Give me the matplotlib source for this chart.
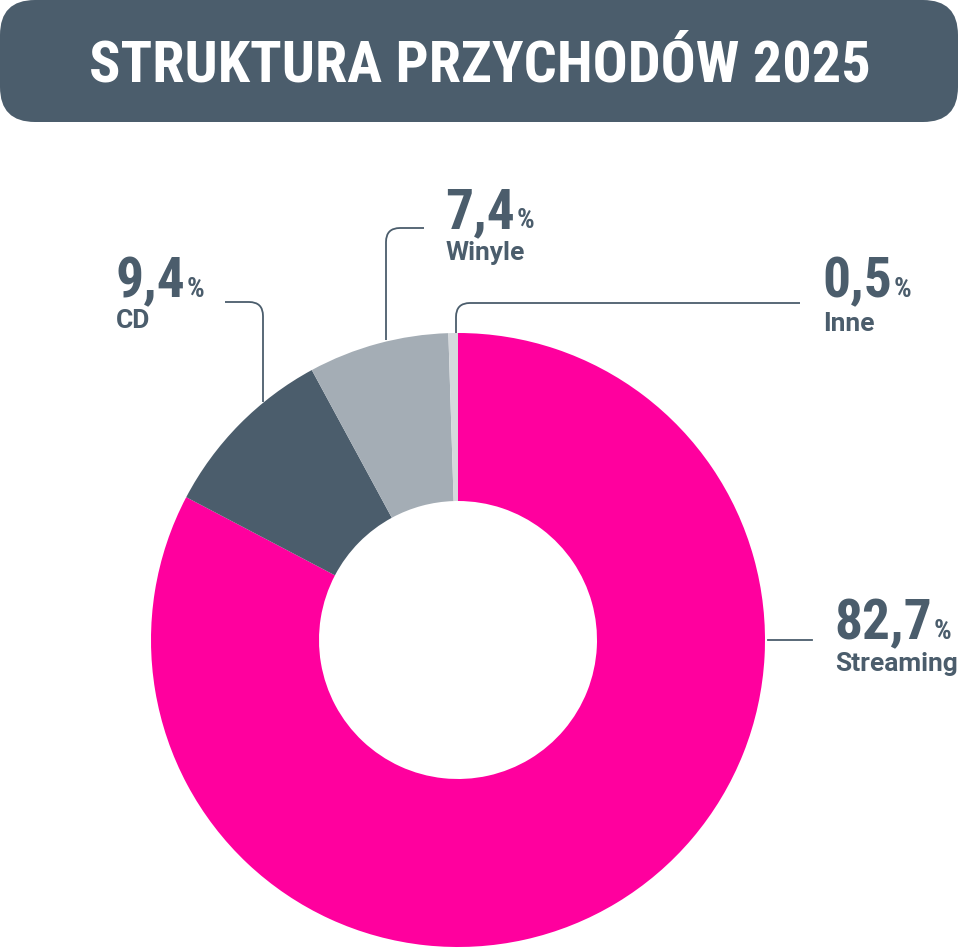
import matplotlib.pyplot as plt
from matplotlib.patches import FancyBboxPatch, PathPatch
from matplotlib.path import Path

plt.rcParams['font.family'] = ['Roboto Condensed', 'Roboto', 'DejaVu Sans']

title = "STRUKTURA PRZYCHODÓW 2025"
names = ["Streaming", "CD", "Winyle", "Inne"]
shares = [82.7, 9.4, 7.4, 0.5]
share_text = ["82,7", "9,4", "7,4", "0,5"]
colors = ["#ff009e", "#4b5d6c", "#a4adb5", "#d5d9dc"]

dark = "#4b5d6c"

fig = plt.figure(figsize=(9.6, 9.48), dpi=100)
ax = fig.add_axes([0, 0, 1, 1])

# donut (y axis inverted -> counterclock=True turns clockwise on screen)
cx, cy, R = 458, 640, 307
ax.pie(shares, colors=colors, startangle=270, counterclock=True,
       center=(cx, cy), radius=R, frame=True,
       wedgeprops=dict(width=R - 139, linewidth=0))
ax.set_xlim(0, 960)
ax.set_ylim(948, 0)
ax.set_aspect("equal")
ax.axis("off")

# banner
ax.add_patch(FancyBboxPatch((35, 35), 888, 52, boxstyle="round,pad=35",
                            fc=dark, ec="none"))
tt = ax.text(480, 66, title, color="white", fontsize=40, fontweight="bold",
             ha="center", va="center")
fig.canvas.draw()
rend = fig.canvas.get_renderer()
w = tt.get_window_extent(rend).width
tt.set_fontsize(40 * 780 / w)


def leader(pts, r=14):
    # polyline with one rounded corner at pts[1]
    (x0, y0), (x1, y1), (x2, y2) = pts
    def toward(a, b, d):
        dx, dy = b[0] - a[0], b[1] - a[1]
        n = (dx * dx + dy * dy) ** 0.5
        return (a[0] + dx / n * d, a[1] + dy / n * d)
    p_in = toward((x1, y1), (x0, y0), r)
    p_out = toward((x1, y1), (x2, y2), r)
    verts = [(x0, y0), p_in, (x1, y1), p_out, (x2, y2)]
    codes = [Path.MOVETO, Path.LINETO, Path.CURVE3, Path.CURVE3, Path.LINETO]
    ax.add_patch(PathPatch(Path(verts, codes), fc="none", ec=dark, lw=1.3))


leader([(225, 302), (263, 302), (263, 402)])
leader([(424, 228), (386, 228), (386, 340)])
leader([(456, 333), (456, 303), (800, 303)])
ax.plot([768, 812], [640, 640], color=dark, lw=1.3)

# labels: (x, baseline of number, baseline of name)
label_pos = [(834, 639, 671), (115, 297, 328), (445, 228, 260), (822, 297, 331)]
fig.canvas.draw()
for (x, y, y2), num, name in zip(label_pos, share_text, names):
    t = ax.text(x, y, num, color=dark, fontsize=40, fontweight="bold",
                ha="left", va="baseline")
    bb = t.get_window_extent(rend)
    x_end = ax.transData.inverted().transform((bb.x1, bb.y0))[0]
    ax.text(x_end + 2, y, "%", color=dark, fontsize=20, fontweight="bold",
            ha="left", va="baseline")
    ax.text(x + 1, y2, name, color=dark, fontsize=19, fontweight="bold",
            family=["Roboto", "DejaVu Sans"], ha="left", va="baseline")

fig.savefig("out.png", dpi=100)
